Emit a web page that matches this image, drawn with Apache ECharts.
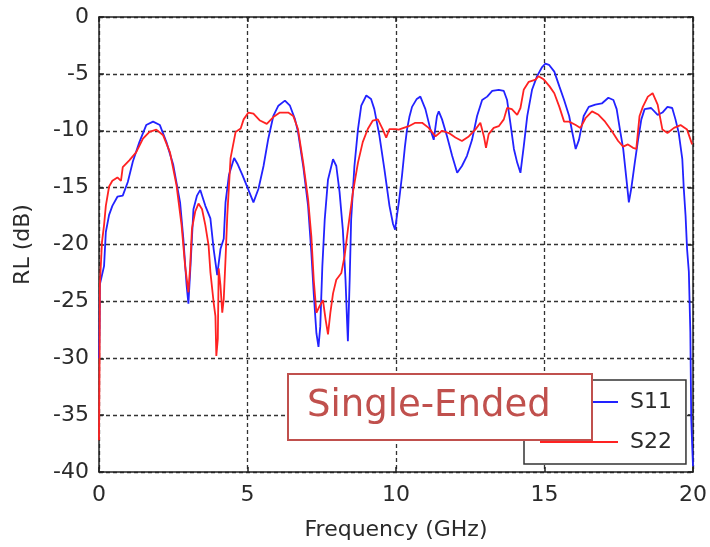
<!DOCTYPE html>
<html>
<head>
<meta charset="utf-8">
<script src="https://cdn.jsdelivr.net/npm/echarts@6/dist/echarts.min.js"></script>
<style>
html,body{margin:0;padding:0;background:#fff;}
#chart{width:710px;height:547px;}
</style>
</head>
<body>
<div id="chart"></div>
<script>
// ---- Data ----
const xTicks = [0, 5, 10, 15, 20];
const yTicks = [0, -5, -10, -15, -20, -25, -30, -35, -40];
const seriesNames = ['S11', 'S22'];
const annotationText = 'Single-Ended';

const s11Freq = [0.0,0.02,0.03,0.17,0.23,0.34,0.45,0.62,0.8,0.97,1.14,1.36,1.59,1.82,2.05,2.27,2.5,2.73,2.84,2.95,3.01,3.07,3.18,3.3,3.41,3.58,3.75,3.86,3.98,4.09,4.2,4.26,4.375,4.55,4.66,4.83,5.0,5.2,5.37,5.54,5.7,5.87,6.04,6.26,6.43,6.6,6.7,6.875,7.04,7.15,7.23,7.32,7.39,7.45,7.52,7.6,7.71,7.88,7.99,8.1,8.21,8.3,8.35,8.38,8.44,8.49,8.6,8.72,8.83,9.0,9.16,9.27,9.44,9.61,9.78,9.9,9.97,10.03,10.1,10.2,10.3,10.37,10.45,10.54,10.7,10.82,10.99,11.16,11.27,11.38,11.44,11.55,11.72,11.89,12.06,12.22,12.39,12.56,12.73,12.9,13.07,13.24,13.46,13.63,13.74,13.85,13.97,14.08,14.19,14.3,14.42,14.58,14.75,14.92,15.03,15.15,15.33,15.5,15.66,15.83,15.94,16.05,16.16,16.32,16.49,16.71,16.93,17.15,17.32,17.43,17.54,17.65,17.76,17.84,17.92,18.04,18.15,18.26,18.37,18.59,18.81,18.97,19.14,19.3,19.41,19.52,19.64,19.69,19.75,19.8,19.86,19.91,19.94,19.97,20.0];
const s11Db = [-30,-27,-23.5,-21.9,-18.9,-17.4,-16.6,-15.8,-15.7,-14.5,-12.7,-11.0,-9.5,-9.2,-9.5,-11.0,-13.0,-16.3,-19.5,-23.6,-25.2,-22.4,-16.9,-15.7,-15.2,-16.6,-17.7,-20.4,-22.7,-20.4,-19.5,-16.3,-13.9,-12.4,-12.9,-13.9,-15.0,-16.3,-15.1,-13.1,-10.7,-8.7,-7.8,-7.35,-7.8,-9.0,-10.1,-13.1,-16.6,-20.7,-24.3,-27.8,-29.0,-27.2,-21.9,-17.8,-14.3,-12.5,-13.1,-15.4,-18.7,-23.1,-26.6,-28.5,-23.1,-17.8,-13.1,-9.85,-7.8,-6.9,-7.2,-8.1,-10.4,-13.4,-16.6,-18.2,-18.7,-17.5,-16.2,-14.0,-11.4,-9.9,-8.8,-7.9,-7.2,-7.0,-8.1,-9.9,-10.8,-8.7,-8.3,-9.0,-10.5,-12.2,-13.7,-13.1,-12.2,-10.8,-8.7,-7.3,-7.0,-6.5,-6.4,-6.5,-7.3,-9.3,-11.6,-12.8,-13.7,-11.4,-8.7,-6.4,-5.2,-4.4,-4.1,-4.2,-4.8,-6.1,-7.3,-8.7,-10.2,-11.6,-10.8,-8.7,-7.9,-7.7,-7.6,-7.1,-7.3,-8.1,-9.9,-11.6,-14.3,-16.3,-15.1,-12.8,-10.8,-9.0,-8.1,-8.0,-8.6,-8.4,-7.9,-8.0,-9.0,-10.2,-12.5,-15.1,-17.5,-20.4,-22.4,-27.7,-35.3,-37.5,-39.5];

const s22Freq = [0.0,0.02,0.03,0.1,0.17,0.23,0.34,0.45,0.62,0.74,0.8,1.02,1.25,1.48,1.7,1.93,2.16,2.39,2.61,2.78,2.9,3.01,3.07,3.13,3.24,3.35,3.47,3.58,3.69,3.75,3.86,3.92,3.95,4.0,4.03,4.09,4.15,4.2,4.26,4.32,4.43,4.6,4.77,4.87,5.03,5.2,5.42,5.65,5.87,6.09,6.37,6.54,6.7,6.875,7.04,7.15,7.23,7.32,7.43,7.54,7.63,7.71,7.79,7.88,7.99,8.16,8.27,8.38,8.55,8.72,8.88,9.05,9.22,9.39,9.55,9.67,9.78,10.0,10.09,10.43,10.65,10.88,11.1,11.33,11.55,11.78,12.0,12.22,12.45,12.67,12.84,12.96,13.03,13.12,13.29,13.46,13.63,13.74,13.9,14.08,14.19,14.3,14.47,14.7,14.8,14.98,15.17,15.33,15.5,15.66,15.83,16.05,16.21,16.38,16.6,16.82,17.04,17.26,17.48,17.65,17.81,17.98,18.09,18.2,18.31,18.48,18.64,18.81,18.97,19.14,19.36,19.58,19.8,19.97];
const s22Db = [-37.2,-30,-23.5,-19.8,-18.3,-16.6,-14.9,-14.4,-14.1,-14.4,-13.2,-12.6,-11.9,-10.7,-10.1,-9.9,-10.4,-11.9,-14.8,-18.3,-21.9,-24.2,-21.9,-18.6,-17.1,-16.4,-16.9,-18.3,-20.1,-22.4,-25.1,-26.3,-29.8,-28.3,-22.1,-23.6,-26.0,-24.8,-21.3,-17.4,-12.4,-10.1,-9.8,-9.0,-8.4,-8.5,-9.1,-9.4,-8.8,-8.4,-8.4,-8.7,-9.85,-12.8,-16.0,-19.3,-23.1,-26.0,-25.4,-24.9,-26.6,-27.9,-26.0,-24.3,-23.1,-22.5,-21.0,-18.7,-15.4,-12.8,-11.0,-9.85,-9.1,-9.0,-9.85,-10.6,-9.85,-9.85,-9.9,-9.6,-9.3,-9.3,-9.75,-10.5,-10.0,-10.2,-10.6,-10.9,-10.5,-9.9,-9.3,-10.5,-11.5,-10.3,-9.75,-9.6,-9.0,-8.0,-8.1,-8.6,-8.0,-6.4,-5.7,-5.5,-5.2,-5.5,-6.1,-6.7,-7.9,-9.2,-9.2,-9.5,-9.75,-8.9,-8.3,-8.6,-9.2,-10.0,-10.9,-11.4,-11.2,-11.5,-11.6,-8.7,-7.9,-7.0,-6.7,-7.7,-9.9,-10.2,-9.75,-9.5,-9.9,-11.2];

function pairs(xs, ys) { return xs.map((x, i) => [x, ys[i]]); }

const FONT = 'DejaVu Sans, Verdana, sans-serif';
const INK = '#2a2a2a';

const chart = echarts.init(document.getElementById('chart'), null, {renderer: 'canvas'});
const xmin = xTicks[0], xmax = xTicks[xTicks.length - 1];
const ymin = yTicks[yTicks.length - 1], ymax = yTicks[0];
const xStep = xTicks[1] - xTicks[0];
const yStep = yTicks[0] - yTicks[1];

chart.setOption({
  animation: false,
  backgroundColor: '#ffffff',
  grid: { left: 99, right: 15, top: 17, bottom: 75, show: false },
  legend: {
    data: seriesNames,
    orient: 'vertical',
    left: 524, top: 380, z: 2, zlevel: 0,
    padding: [10, 14, 10, 16],
    itemGap: 16,
    itemWidth: 78, itemHeight: 2,
    icon: 'rect',
    backgroundColor: '#ffffff',
    borderColor: '#333333', borderWidth: 1.5, borderRadius: 0,
    textStyle: { fontFamily: FONT, fontSize: 22, color: INK, lineHeight: 24, padding: [0, 0, 0, 7] }
  },
  xAxis: [{
    type: 'value', min: xmin, max: xmax, interval: xStep, position: 'bottom',
    name: 'Frequency (GHz)', nameLocation: 'middle', nameGap: 47,
    nameTextStyle: { fontFamily: FONT, fontSize: 22, color: INK },
    axisLine: { show: true, onZero: false, lineStyle: { color: '#222', width: 1.5 } },
    axisTick: { show: true, inside: true, length: 5, lineStyle: { color: '#222', width: 1.5 } },
    axisLabel: { fontFamily: FONT, fontSize: 22, color: INK, margin: 12 },
    splitLine: { show: true, lineStyle: { color: '#333', width: 1.3, type: [4, 3] } }
  }, {
    type: 'value', min: xmin, max: xmax, interval: xStep, position: 'top',
    axisLine: { show: true, onZero: false, lineStyle: { color: '#222', width: 1.5 } },
    axisTick: { show: true, inside: true, length: 5, lineStyle: { color: '#222', width: 1.5 } },
    axisLabel: { show: false }, splitLine: { show: false }
  }],
  yAxis: [{
    type: 'value', min: ymin, max: ymax, interval: yStep, position: 'left',
    name: 'RL (dB)', nameLocation: 'middle', nameGap: 65, nameRotate: 90,
    nameTextStyle: { fontFamily: FONT, fontSize: 22, color: INK },
    axisLine: { show: true, onZero: false, lineStyle: { color: '#222', width: 1.5 } },
    axisTick: { show: true, inside: true, length: 5, lineStyle: { color: '#222', width: 1.5 } },
    axisLabel: { fontFamily: FONT, fontSize: 22, color: INK, margin: 10 },
    splitLine: { show: true, lineStyle: { color: '#333', width: 1.3, type: [4, 3] } }
  }, {
    type: 'value', min: ymin, max: ymax, interval: yStep, position: 'right',
    axisLine: { show: true, onZero: false, lineStyle: { color: '#222', width: 1.5 } },
    axisTick: { show: true, inside: true, length: 5, lineStyle: { color: '#222', width: 1.5 } },
    axisLabel: { show: false }, splitLine: { show: false }
  }],
  series: [{
    name: seriesNames[0], type: 'line', xAxisIndex: 0, yAxisIndex: 0,
    data: pairs(s11Freq, s11Db), showSymbol: false, symbol: 'none',
    color: '#2222ff', lineStyle: { color: '#2222ff', width: 1.8 }, z: 3
  }, {
    name: seriesNames[1], type: 'line', xAxisIndex: 0, yAxisIndex: 0,
    data: pairs(s22Freq, s22Db), showSymbol: false, symbol: 'none',
    color: '#ff2222', lineStyle: { color: '#ff2222', width: 1.8 }, z: 4
  }],
  graphic: [{
    type: 'rect', left: 287, top: 373, z: 100, zlevel: 1,
    shape: { width: 304, height: 66 },
    style: { fill: '#ffffff', stroke: '#c0504d', lineWidth: 2 }
  }, {
    type: 'text', left: 307, top: 388, z: 101, zlevel: 1,
    style: { text: annotationText, font: '37px DejaVu Sans, Verdana, sans-serif', fill: '#c0504d' }
  }]
});
</script>
</body>
</html>
